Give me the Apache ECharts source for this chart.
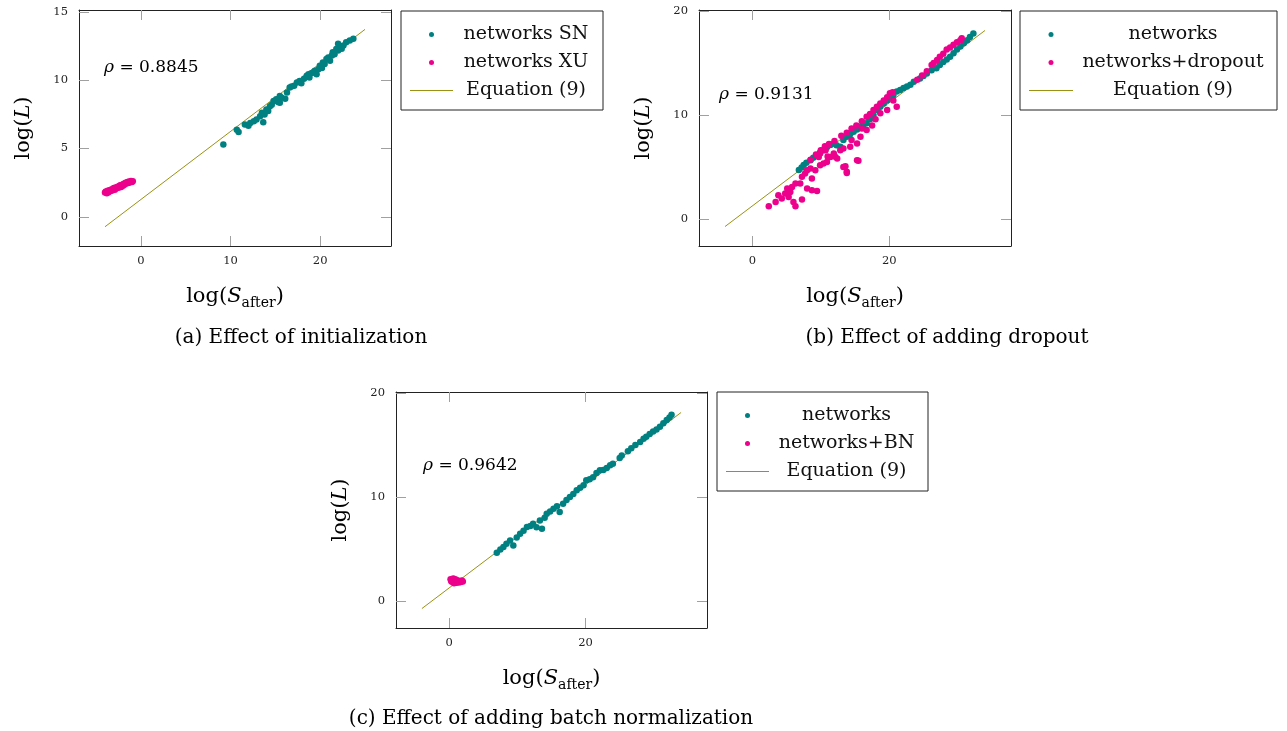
<!DOCTYPE html>
<html>
<head>
<meta charset="utf-8">
<script src="https://cdn.jsdelivr.net/npm/echarts@6/dist/echarts.min.js"></script>
<style>html,body{margin:0;padding:0;background:#fff}#c{width:1287px;height:731px}</style>
</head>
<body>
<div id="c"></div>
<script>
// ---------- DATA ----------
const aSN = [[9.2,5.3],[10.7,6.38],[10.9,6.21],[11.6,6.75],[12.0,6.67],[12.2,6.87],[12.6,7.0],[12.9,7.12],[13.3,7.36],[13.5,7.61],[13.65,6.92],[13.8,7.49],[14.0,7.86],[14.2,7.75],[14.4,8.1],[14.6,8.2],[14.8,8.47],[15.1,8.6],[15.3,8.4],[15.5,8.84],[15.5,8.35],[15.7,8.72],[16.1,8.65],[16.3,9.1],[16.6,9.46],[16.8,9.53],[17.1,9.6],[17.4,9.83],[17.7,9.95],[17.9,9.78],[18.2,10.1],[18.5,10.32],[18.7,10.44],[18.8,10.2],[19.0,10.5],[19.2,10.57],[19.4,10.69],[19.6,10.44],[19.8,10.8],[19.96,11.06],[20.2,10.9],[20.3,11.3],[20.5,11.18],[20.7,11.55],[20.9,11.67],[21.1,11.43],[21.3,11.8],[21.4,12.04],[21.6,11.9],[21.8,12.29],[22.0,12.17],[22.0,12.66],[22.2,12.41],[22.4,12.3],[22.6,12.54],[22.9,12.78],[23.3,12.9],[23.7,13.03]];
const aXU = [[-4.0,1.78],[-3.9,1.85],[-3.8,1.72],[-3.7,1.9],[-3.6,1.8],[-3.5,1.95],[-3.4,1.88],[-3.3,2.0],[-3.2,1.93],[-3.1,2.05],[-3.0,2.1],[-2.9,1.98],[-2.8,2.15],[-2.7,2.08],[-2.6,2.2],[-2.5,2.12],[-2.4,2.25],[-2.3,2.3],[-2.2,2.18],[-2.1,2.35],[-2.0,2.28],[-1.9,2.42],[-1.8,2.37],[-1.7,2.5],[-1.6,2.45],[-1.5,2.55],[-1.4,2.48],[-1.3,2.58],[-1.2,2.52],[-1.1,2.62],[-1.0,2.55],[-0.9,2.6]];
const bNet = [[6.8,4.7],[7.2,4.95],[7.5,5.18],[7.9,5.4],[8.5,5.66],[8.9,5.9],[9.4,6.14],[9.9,6.4],[10.4,6.62],[10.9,6.9],[11.4,7.11],[11.9,7.27],[12.3,7.1],[12.85,6.95],[13.3,7.6],[13.8,7.91],[14.3,8.15],[14.8,8.39],[15.3,8.6],[15.8,8.87],[16.2,9.0],[16.7,9.2],[17.2,9.6],[17.7,10.0],[18.2,10.5],[18.7,10.8],[19.2,11.1],[19.7,11.4],[20.2,11.7],[20.6,11.9],[21.1,12.25],[21.6,12.4],[22.1,12.6],[22.6,12.75],[23.1,12.9],[23.6,13.2],[24.5,13.5],[25.0,13.75],[25.5,14.0],[26.2,14.3],[26.9,14.5],[27.4,14.8],[27.9,15.1],[28.4,15.35],[28.9,15.6],[29.4,15.95],[29.9,16.3],[30.4,16.6],[30.9,16.9],[31.4,17.2],[31.8,17.5],[32.3,17.85]];
const bDrop = [[2.4,1.22],[3.4,1.64],[3.8,2.28],[4.3,1.96],[4.8,2.45],[5.3,2.12],[5.55,2.6],[6.0,1.64],[6.3,1.22],[7.25,1.87],[5.1,2.93],[5.8,3.08],[6.3,3.41],[7.0,3.41],[7.25,4.05],[8.0,2.93],[8.7,2.76],[9.45,2.7],[8.7,3.89],[8.0,4.69],[8.5,4.86],[7.7,4.37],[9.2,4.69],[9.9,5.17],[10.4,5.34],[10.9,5.49],[11.4,5.97],[11.9,6.3],[9.7,5.97],[9.9,6.3],[10.7,6.62],[12.85,6.62],[13.3,6.78],[14.3,6.94],[15.3,7.26],[15.8,7.9],[12.4,5.82],[13.6,5.08],[13.8,4.43],[15.5,5.59],[8.5,5.7],[9.3,6.2],[10.0,6.6],[10.6,7.0],[11.2,7.2],[12.0,7.5],[13.0,8.0],[13.8,8.3],[14.5,8.7],[15.2,9.0],[16.0,9.4],[16.7,9.84],[17.2,10.1],[17.7,10.48],[18.2,10.8],[18.7,11.1],[19.2,11.4],[19.7,11.7],[20.1,12.1],[20.5,12.2],[16.0,8.71],[16.7,8.55],[18.7,10.16],[19.7,10.48],[21.1,10.8],[20.6,11.4],[15.3,5.66],[13.3,5.0],[13.8,4.53],[12.1,5.98],[17.5,9.0],[18.0,9.6],[14.5,7.6],[11.0,6.0],[24.1,13.4],[24.8,13.8],[25.5,14.2],[26.2,14.8],[26.5,15.0],[27.0,15.3],[27.4,15.6],[27.9,15.9],[28.4,16.3],[28.9,16.5],[29.4,16.75],[29.9,17.0],[30.4,17.2],[30.6,17.38]];
const cNet = [[6.98,4.63],[7.5,4.95],[7.95,5.18],[8.4,5.5],[8.93,5.82],[9.4,5.34],[9.9,6.1],[10.4,6.46],[10.9,6.75],[11.4,7.11],[11.9,7.2],[12.3,7.43],[12.8,7.1],[13.3,7.75],[13.6,6.95],[14.0,8.0],[14.3,8.39],[14.8,8.6],[15.3,8.87],[15.8,9.1],[16.2,8.55],[16.7,9.36],[17.2,9.7],[17.7,10.0],[18.2,10.3],[18.7,10.64],[19.2,10.9],[19.7,11.13],[20.1,11.6],[20.6,11.7],[21.1,11.9],[21.6,12.3],[22.1,12.57],[22.6,12.6],[23.1,12.8],[23.6,13.05],[24.0,13.2],[25.0,13.75],[25.3,14.0],[26.2,14.4],[26.7,14.7],[27.3,15.0],[28.0,15.3],[28.5,15.6],[28.9,15.8],[29.4,16.05],[29.9,16.3],[30.4,16.5],[30.9,16.75],[31.4,17.1],[31.9,17.4],[32.3,17.65],[32.6,17.9]];
const cBN = [[0.2,2.1],[0.4,2.0],[0.4,1.85],[0.6,2.15],[0.7,1.7],[0.8,1.95],[1.0,1.75],[1.1,1.8],[1.2,2.0],[1.4,1.78],[1.5,1.9],[1.7,1.82],[1.85,1.96],[2.0,1.88],[0.3,1.9],[0.9,2.1]];
const eqA = [[-4,-0.73],[25,13.72]];
const eqBC = [[-4,-0.73],[34,18.13]];
const xTicksA = [0,10,20], yTicksA = [0,5,10,15];
const xTicksBC = [0,20], yTicksBC = [0,10,20];
const rhoA = '0.8845', rhoB = '0.9131', rhoC = '0.9642';
const captions = ['(a) Effect of initialization','(b) Effect of adding dropout','(c) Effect of adding batch normalization'];

// ---------- STYLE ----------
const FONT = "'DejaVu Serif', serif";
const TEAL = '#008080', PINK = '#EC008C', OLIVE = '#9a9212';
const TICKC = '#a0a0a0', FRAME = '#222';

const grids = [
  {left:79, top:10, width:312, height:236},
  {left:699, top:10, width:312, height:236},
  {left:396, top:392, width:311, height:236}
];
const ranges = [
  {x:[-6.9,27.9], y:[-2.14,15.14], xt:xTicksA, yt:yTicksA},
  {x:[-7.8,37.8], y:[-2.6,20.1], xt:xTicksBC, yt:yTicksBC},
  {x:[-7.8,37.8], y:[-2.6,20.1], xt:xTicksBC, yt:yTicksBC}
];
const nameRich = {
  n:{fontFamily:FONT, fontSize:21, color:'#000'},
  i:{fontFamily:FONT, fontSize:21, fontStyle:'italic', color:'#000'},
  s:{fontFamily:FONT, fontSize:14, color:'#000', padding:[13,0,0,0]}
};
const xAxes = [], yAxes = [];
ranges.forEach((r, g) => {
  const base = {type:'value', gridIndex:g, min:r.x[0], max:r.x[1], splitLine:{show:false},
    axisLine:{onZero:false, lineStyle:{color:FRAME, width:1}}};
  xAxes.push(Object.assign({}, base, {position:'bottom',
    axisTick:{inside:true, length:10, customValues:r.xt, lineStyle:{color:TICKC}},
    axisLabel:{customValues:r.xt, fontFamily:FONT, fontSize:11.5, color:'#222', margin:9},
    name:'{n|log(}{i|S}{s|after}{n|)}', nameLocation:'middle', nameGap:37,
    nameTextStyle:{rich:nameRich}}));
  xAxes.push(Object.assign({}, base, {position:'top',
    axisTick:{inside:true, length:10, customValues:r.xt, lineStyle:{color:TICKC}},
    axisLabel:{show:false}}));
  const ybase = {type:'value', gridIndex:g, min:r.y[0], max:r.y[1], splitLine:{show:false},
    axisLine:{onZero:false, lineStyle:{color:FRAME, width:1}}};
  yAxes.push(Object.assign({}, ybase, {position:'left',
    axisTick:{inside:true, length:10, customValues:r.yt, lineStyle:{color:TICKC}},
    axisLabel:{customValues:r.yt, fontFamily:FONT, fontSize:11.5, color:'#222', margin:11},
    name:'{n|log(}{i|L}{n|)}', nameLocation:'middle', nameGap:45,
    nameTextStyle:{rich:nameRich}}));
  yAxes.push(Object.assign({}, ybase, {position:'right',
    axisTick:{inside:true, length:10, customValues:r.yt, lineStyle:{color:TICKC}},
    axisLabel:{show:false}}));
});

function scatter(name, data, g, color) {
  return {type:'scatter', name, data, xAxisIndex:2*g, yAxisIndex:2*g, symbol:'circle',
    symbolSize:6.5, itemStyle:{color, opacity:1}, z:3, silent:true};
}
function eqLine(data, g) {
  return {type:'line', name:'Equation (9)', data, xAxisIndex:2*g, yAxisIndex:2*g, symbol:'none',
    showSymbol:false, lineStyle:{color:OLIVE, width:1}, itemStyle:{color:OLIVE}, z:2, silent:true};
}
const series = [
  eqLine(eqA, 0), scatter('networks SN', aSN, 0, TEAL), scatter('networks XU', aXU, 0, PINK),
  eqLine(eqBC, 1), scatter('networks', bNet, 1, TEAL), scatter('networks+dropout', bDrop, 1, PINK),
  eqLine(eqBC, 2), scatter('networks', cNet, 2, TEAL), scatter('networks+BN', cBN, 2, PINK)
];

function legend(names, left, top, itemWidth, textW) {
  const data = names.map(n => n === 'Equation (9)'
    ? {name:n, icon:'path://M0,0 L40,0 L40,1 L0,1 Z', itemStyle:{color:OLIVE}}
    : {name:n, icon:'circle'});
  return {orient:'vertical', left, top, itemWidth, itemHeight:5, itemGap:9,
    padding:[14,9,10,9], borderColor:FRAME, borderWidth:1, selectedMode:false,
    symbolKeepAspect:true, data, formatter:'{c|{name}}',
    textStyle:{fontFamily:FONT, fontSize:19, color:'#111',
      rich:{c:{width:textW, align:'center', fontFamily:FONT, fontSize:19, lineHeight:22, color:'#111'}}}};
}
const legends = [
  legend(['networks SN','networks XU','Equation (9)'], 401, 11, 43, 136),
  legend(['networks','networks+dropout','Equation (9)'], 1020, 11, 44, 190),
  legend(['networks','networks+BN','Equation (9)'], 717, 392, 43, 145)
];

function rho(val, x, y) {
  return {type:'text', left:x, top:y, silent:true,
    style:{text:'{i|ρ} = ' + val, fill:'#000', font:'17px ' + FONT,
      rich:{i:{fontStyle:'italic', fontFamily:FONT, fontSize:17}}}};
}
function caption(t, cx, cy) {
  return {type:'text', x:cx, y:cy, silent:true,
    style:{text:t, fill:'#000', font:'20px ' + FONT, align:'center', verticalAlign:'middle'}};
}
const graphics = [
  rho(rhoA, 104, 59), rho(rhoB, 719, 86), rho(rhoC, 423, 457),
  caption(captions[0], 301, 338), caption(captions[1], 947, 338), caption(captions[2], 551, 719)
];

const chart = echarts.init(document.getElementById('c'), null, {renderer:'canvas'});
chart.setOption({
  animation:false,
  backgroundColor:'#fff',
  grid:grids,
  xAxis:xAxes,
  yAxis:yAxes,
  legend:legends,
  series,
  graphic:graphics
});
</script>
</body>
</html>
